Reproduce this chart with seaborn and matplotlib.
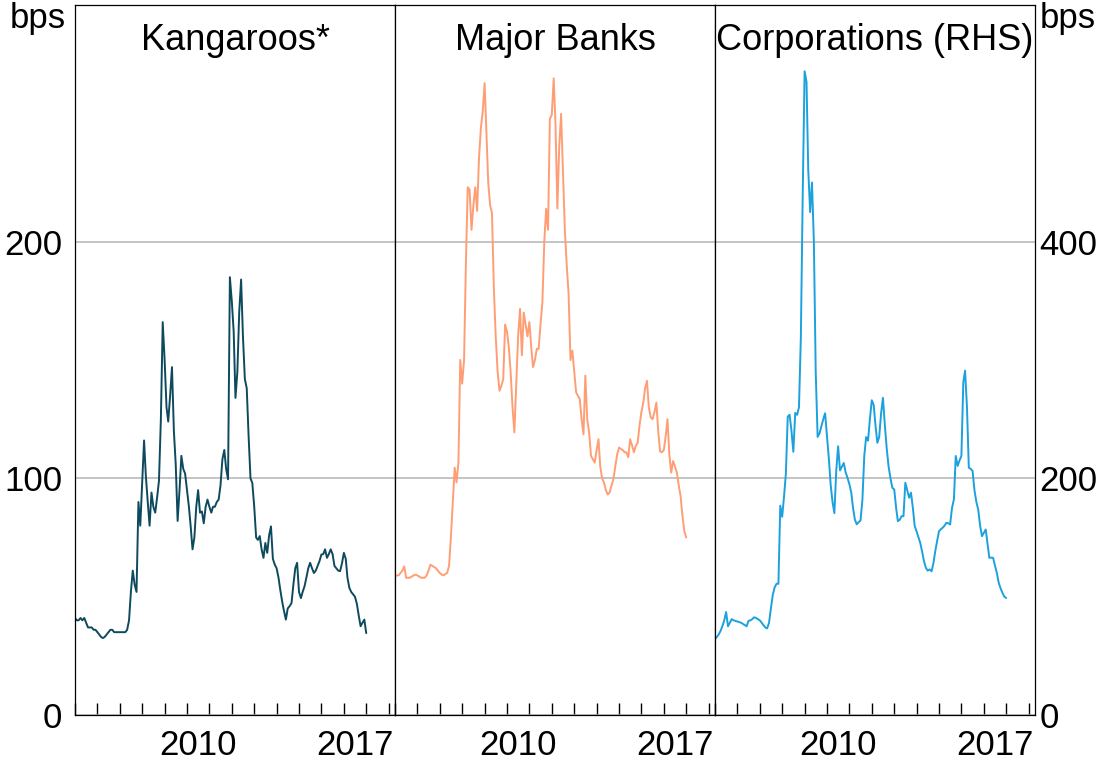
import matplotlib
matplotlib.use("Agg")
import matplotlib.pyplot as plt
import matplotlib.dates as mdates
import matplotlib.ticker as mticker
import numpy as np
import pandas as pd
import seaborn as sns

# ── data (monthly spreads, bps) ──────────────────────────────────────────────

start = "2005-01-01"

kangaroos = [
    41, 40, 40, 41, 40, 41, 39, 37, 37, 37, 36, 36,                      # 2005
    35, 34, 33, 32.5, 33, 34, 35, 36, 36, 35, 35, 35,                    # 2006
    35, 35, 35, 35, 36, 40, 52, 61, 55, 52, 90, 80,                      # 2007
    98, 116, 101, 90, 80, 94, 88, 85.5, 92, 99, 125, 166,                # 2008
    150, 130, 124, 135, 147, 120, 106, 82, 95, 109.5, 104, 102,          # 2009
    95, 88, 80, 70, 75, 88, 95, 85.5, 86, 81, 88, 91,                    # 2010
    88, 85.5, 88, 88, 90, 91, 97, 108, 112, 104, 99.6, 185,              # 2011
    175, 162, 134, 145, 170, 184, 160, 142, 138, 118, 100, 98,           # 2012
    88, 75, 74, 75.6, 70, 66.4, 72.7, 68.5, 76, 79.7, 66, 63.6,          # 2013
    62, 58, 53, 48, 44, 40.3, 45, 46, 47.3, 55, 62, 64.3,                # 2014
    52, 49.4, 52, 54.4, 58, 62, 64.3, 62, 60, 61, 63, 65,                # 2015
    67.8, 68, 70, 66.4, 68, 70, 68, 63, 62, 61, 60.8, 64,                # 2016
    68.5, 66, 58, 53.7, 52, 51, 50, 47, 42, 37.5, 39, 40.3,              # 2017
    34.6,                                                                # 2018
]

major_banks = [
    58.6, 59, 59, 60, 61, 62.8, 58, 58, 58, 58.5, 59, 59.3,
    59, 58.5, 58, 58, 58, 59, 61, 63.5, 63, 62.5, 62, 61,
    60, 59.3, 59, 59.5, 60, 63, 75, 90, 104.5, 98.3, 106.6, 150,
    140, 150, 190, 223, 222, 205, 215, 223, 213, 235, 248, 255,
    267, 245, 225, 215.4, 212, 180, 160, 145, 137, 139, 142, 165,
    162, 155, 145, 130, 119.4, 140, 160, 171.6, 152, 170, 165, 160,
    166, 155, 147, 150, 154.7, 154.7, 165, 174.4, 200, 213.9, 205, 252,
    253.5, 269, 250, 214, 240, 254, 230, 205, 190, 178, 150, 154,
    145, 136.3, 135, 133.5, 125, 118.6, 143.4, 125, 119.3, 109.5, 108, 106.6,
    112, 116.5, 105, 100, 98.2, 95, 93.2, 94, 97, 99.6, 105, 110,
    113, 112.4, 112, 111, 111, 108.9, 116.5, 114, 111, 113.7, 115, 122.2,
    128, 132, 138, 141.2, 130, 125.7, 125, 128, 132, 120, 111.4, 111,
    112, 118, 125, 110, 102.4, 107.3, 105, 102.4, 97, 92.5, 84, 77.7,
    75,
]

corporations = [
    64, 66, 68, 71, 75, 80, 87, 75, 78, 81, 80, 79.5,
    79, 78.5, 78, 77, 76, 75, 79.5, 80, 81, 82.6, 82, 81,
    80, 78, 76, 74, 73.2, 77.9, 90, 101.5, 108, 110.9, 110.9, 176.9,
    167.5, 185, 203.6, 252.2, 253.7, 240, 222.4, 255.3, 253.7, 260, 320, 440,
    544, 535, 461, 425, 450, 400, 290, 235, 238, 244, 250, 255,
    235, 216.1, 195, 180, 170.6, 206.7, 227.1, 206.7, 210, 213, 205, 200.4,
    195, 187.9, 175, 165, 161.2, 163, 164.3, 181.6, 219.2, 234.9, 231.8, 250,
    266, 262, 245, 230, 235, 255, 268, 245, 225, 210, 200, 192,
    190.7, 175, 163.8, 165, 168, 168, 196.3, 190, 183.6, 187.9, 175, 159.6,
    155, 150, 145.5, 138, 130, 124.3, 122, 123, 121.5, 128, 138.4, 147,
    155.3, 157, 158.2, 160, 162.4, 162, 161, 175, 182.2, 218.9, 210.5, 215,
    218.9, 281.1, 291, 260, 209, 208, 206.2, 190, 180, 173.7, 160, 151.1,
    154, 156.8, 145, 132.8, 133, 132.8, 126.3, 120, 111.6, 107, 103.1, 100,
    98.9,
]

titles = ["Kangaroos*", "Major Banks", "Corporations (RHS)"]
colors = ["#0e4a5e", "#ff9e74", "#1ba1dd"]
left_ticks = [0, 100, 200, 300]
left_labels = ["0", "100", "200", ""]
right_ticks = [0, 200, 400, 600]
right_labels = ["0", "200", "400", ""]
label_years = [2010, 2017]

# ── figure ───────────────────────────────────────────────────────────────────

sns.set_theme(style="white")
plt.rcParams["font.family"] = ["Liberation Sans", "DejaVu Sans"]
plt.rcParams["text.color"] = "black"
plt.rcParams["xtick.labelcolor"] = "black"
plt.rcParams["ytick.labelcolor"] = "black"
FS = 25

dates = pd.date_range(start, periods=len(kangaroos), freq="MS")
df = pd.DataFrame({
    "date": dates,
    "Kangaroos*": kangaroos,
    "Major Banks": major_banks,
    "Corporations (RHS)": corporations,
})

fig, axes = plt.subplots(1, 3, figsize=(11.04, 7.69), dpi=100,
                         gridspec_kw=dict(wspace=0))
fig.subplots_adjust(left=75 / 1104, right=1035 / 1104,
                    bottom=1 - 715 / 769, top=1 - 5 / 769)

xmin = pd.Timestamp("2005-01-01")
xmax = pd.Timestamp("2019-04-15")

for i, (ax, name, col) in enumerate(zip(axes, titles, colors)):
    sns.lineplot(data=df, x="date", y=name, ax=ax, color=col, linewidth=1.4)
    ax.set_xlim(xmin, xmax)
    if i == 2:
        ax.set_ylim(0, 600)
        ax.set_yticks(right_ticks)
    else:
        ax.set_ylim(0, 300)
        ax.set_yticks(left_ticks)
    ax.yaxis.grid(True, color="#b4b4b4", linewidth=1.1)
    ax.set_axisbelow(True)
    ax.set_xlabel("")
    ax.set_ylabel("")

    # year boundaries as inward ticks, labels at mid-year
    ax.xaxis.set_major_locator(mdates.YearLocator(1))
    ax.xaxis.set_major_formatter(mticker.NullFormatter())
    mids = [mdates.date2num(pd.Timestamp(f"{y}-07-02")) for y in label_years]
    ax.xaxis.set_minor_locator(mticker.FixedLocator(mids))
    ax.xaxis.set_minor_formatter(mticker.FixedFormatter([str(y) for y in label_years]))
    ax.tick_params(axis="x", which="major", direction="in", length=8.5,
                   width=1, color="black", bottom=True, top=False)
    ax.tick_params(axis="x", which="minor", length=0, labelsize=FS, pad=10,
                   bottom=True)

    if i == 0:
        ax.set_yticklabels(left_labels)
        ax.tick_params(axis="y", length=0, labelsize=FS, pad=9, left=True)
    elif i == 1:
        ax.tick_params(axis="y", length=0, labelleft=False)
    else:
        ax.yaxis.tick_right()
        ax.set_yticklabels(right_labels)
        ax.tick_params(axis="y", length=0, labelsize=FS, pad=3,
                       right=True, labelright=True, labelleft=False)

    for s in ax.spines.values():
        s.set_color("black")
        s.set_linewidth(0.9)
        s.set_visible(True)

    ax.text(0.5, 0.937, name, transform=ax.transAxes, ha="center",
            va="baseline", fontsize=26, color="black")

fig.text(66 / 1104, 1 - 28 / 769, "bps", ha="right", va="baseline", fontsize=FS)
fig.text(1040 / 1104, 1 - 28 / 769, "bps", ha="left", va="baseline", fontsize=FS)

fig.savefig("out.png", dpi=100)
